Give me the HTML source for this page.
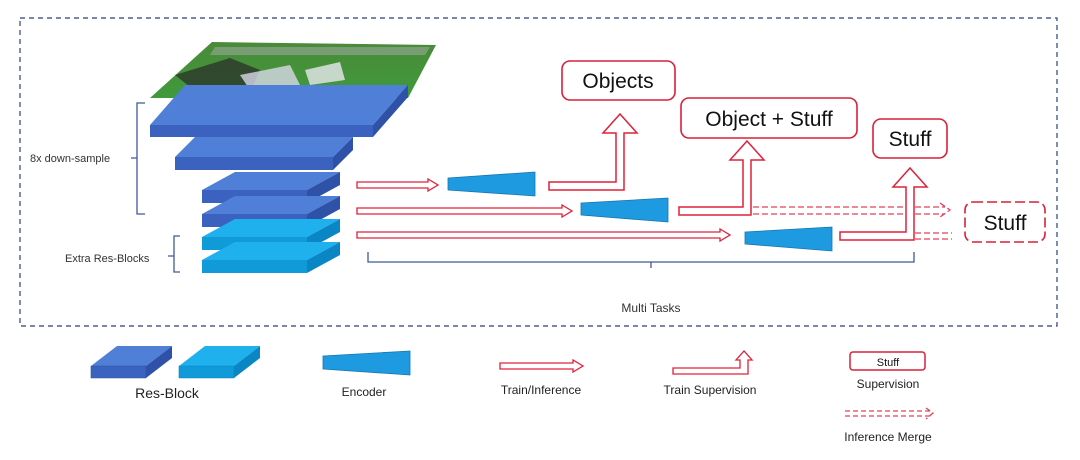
<!DOCTYPE html>
<html><head><meta charset="utf-8"><style>
body{margin:0;background:#fff;}
svg{display:block;font-family:"Liberation Sans",sans-serif;}
</style></head><body>
<svg width="1080" height="460" viewBox="0 0 1080 460" xmlns="http://www.w3.org/2000/svg">
<defs>
<linearGradient id="g" x1="0" y1="0" x2="0" y2="1"><stop offset="0" stop-color="#4a8a3a"/><stop offset="1" stop-color="#3f9a3a"/></linearGradient>
</defs>
<rect x="20" y="18" width="1037" height="308" fill="none" stroke="#2f3f7a" stroke-width="1.2" stroke-dasharray="5,4"/>

<!-- photo -->
<polygon points="150,98 408,98 436,45 212,42" fill="url(#g)"/>
<polygon points="175,75 230,58 260,70 250,92 200,95" fill="#2a2a2a" opacity="0.7"/>
<polygon points="240,75 290,65 300,85 250,90" fill="#d8d8e8" opacity="0.8"/>
<polygon points="305,70 340,62 345,80 310,85" fill="#e8e8f0" opacity="0.8"/>
<polygon points="215,47 430,47 425,55 210,55" fill="#9aa89a" opacity="0.6"/>

<!-- layer1 -->
<polygon points="150,125 373,125 408,85 185,85" fill="#4f7fd6"/>
<polygon points="150,125 373,125 373,137 150,137" fill="#3c62c0"/>
<polygon points="373,125 408,85 408,97 373,137" fill="#2f52a8"/>
<!-- layer2 -->
<polygon points="175,157 333,157 353,137 195,137" fill="#4f7fd6"/>
<polygon points="175,157 333,157 333,170 175,170" fill="#3c62c0"/>
<polygon points="333,157 353,137 353,150 333,170" fill="#2f52a8"/>
<!-- layers 3-6 -->
<g>
<polygon points="202,190 307,190 340,172 235,172" fill="#4f7fd6"/>
<polygon points="202,190 307,190 307,203 202,203" fill="#3c62c0"/>
<polygon points="307,190 340,172 340,185 307,203" fill="#2f52a8"/>
<polygon points="202,214 307,214 340,196 235,196" fill="#4f7fd6"/>
<polygon points="202,214 307,214 307,227 202,227" fill="#3c62c0"/>
<polygon points="307,214 340,196 340,209 307,227" fill="#2f52a8"/>
<polygon points="202,237 307,237 340,219 235,219" fill="#1fb0ee"/>
<polygon points="202,237 307,237 307,250 202,250" fill="#109ad8"/>
<polygon points="307,237 340,219 340,232 307,250" fill="#0a86c4"/>
<polygon points="202,260 307,260 340,242 235,242" fill="#1fb0ee"/>
<polygon points="202,260 307,260 307,273 202,273" fill="#109ad8"/>
<polygon points="307,260 340,242 340,255 307,273" fill="#0a86c4"/>
</g>

<!-- brackets -->
<g fill="none" stroke="#3f5a9a" stroke-width="1.3">
<path d="M145,103 H137 V214 H145 M137,158 H131"/>
<path d="M180,236 H174 V272 H180 M174,256 H168"/>
<path d="M368,252 V262 H914 V252 M651,262 V268"/>
</g>
<text x="30" y="162" font-size="11" fill="#333">8x down-sample</text>
<text x="65" y="262" font-size="11" fill="#333">Extra Res-Blocks</text>
<text x="651" y="312" font-size="12" fill="#333" text-anchor="middle">Multi Tasks</text>

<!-- train arrows -->
<g fill="#fff" stroke="#e0203a" stroke-width="1.3">
<polygon points="357,182 428,182 428,179 438,185 428,191 428,188 357,188"/>
<polygon points="357,208 562,208 562,205 572,211 562,217 562,214 357,214"/>
<polygon points="357,232 720,232 720,229 730,235 720,241 720,238 357,238"/>
</g>

<!-- encoders -->
<g fill="#1e9be0" stroke="#1577b0" stroke-width="0.8">
<polygon points="448,178 535,172 535,196 448,190"/>
<polygon points="581,203 668,198 668,222 581,215"/>
<polygon points="745,232 832,227 832,251 745,244"/>
</g>

<!-- dashed merge arrows -->
<g fill="none" stroke="#e0405a" stroke-width="1.3" stroke-dasharray="6,3">
<path d="M753,207 H945 M753,214 H945 M940,203 L950,210 L940,217"/>
<path d="M915,233 H952 M915,239 H952"/>
</g>

<!-- supervision arrows -->
<g fill="#fff" stroke="#e0203a" stroke-width="1.5">
<polygon points="549,182 616,182 616,133 603,133 620,114 637,133 624,133 624,190 549,190"/>
<polygon points="679,207 743,207 743,160 730,160 747,141 764,160 751,160 751,215 679,215"/>
<polygon points="840,232 906,232 906,187 893,187 910,168 927,187 914,187 914,240 840,240"/>
</g>

<!-- boxes -->
<g fill="#fff" stroke="#d8203a" stroke-width="1.6">
<rect x="562" y="61" width="113" height="39" rx="8"/>
<rect x="681" y="98" width="176" height="40" rx="8"/>
<rect x="873" y="119" width="74" height="39" rx="8"/>
<rect x="965" y="202" width="80" height="40" rx="8" stroke-dasharray="10,4"/>
</g>
<g font-size="21" fill="#111" text-anchor="middle">
<text x="618" y="88">Objects</text>
<text x="769" y="126">Object + Stuff</text>
<text x="910" y="146">Stuff</text>
<text x="1005" y="230">Stuff</text>
</g>

<!-- legend -->
<polygon points="91,366 146,366 172,346 117,346" fill="#4f7fd6"/>
<polygon points="91,366 146,366 146,378 91,378" fill="#3c62c0" stroke="#2f52a8" stroke-width="0.6"/>
<polygon points="146,366 172,346 172,358 146,378" fill="#2f52a8"/>
<polygon points="179,366 234,366 260,346 205,346" fill="#1fb0ee"/>
<polygon points="179,366 234,366 234,378 179,378" fill="#109ad8" stroke="#0a86c4" stroke-width="0.6"/>
<polygon points="234,366 260,346 260,358 234,378" fill="#0a86c4"/>
<text x="167" y="398" font-size="14" fill="#222" text-anchor="middle">Res-Block</text>

<polygon points="323,356 410,351 410,375 323,369" fill="#1e9be0" stroke="#1577b0" stroke-width="0.8"/>
<text x="364" y="396" font-size="12" fill="#222" text-anchor="middle">Encoder</text>

<polygon points="500,363 573,363 573,360 583,366 573,372 573,369 500,369" fill="#fff" stroke="#e0203a" stroke-width="1.3"/>
<text x="541" y="394" font-size="12" fill="#222" text-anchor="middle">Train/Inference</text>

<polygon points="673,368 740,368 740,360 736,360 744,351 752,360 748,360 748,374 673,374" fill="#fff" stroke="#e0203a" stroke-width="1.3"/>
<text x="710" y="394" font-size="12" fill="#222" text-anchor="middle">Train Supervision</text>

<rect x="850" y="352" width="75" height="18" rx="3" fill="#fff" stroke="#d8203a" stroke-width="1.5"/>
<text x="888" y="366" font-size="11" fill="#111" text-anchor="middle">Stuff</text>
<text x="888" y="388" font-size="12" fill="#222" text-anchor="middle">Supervision</text>

<g fill="none" stroke="#e0405a" stroke-width="1.3" stroke-dasharray="5,3">
<path d="M845,411 H930 M845,416 H930 M926,408 L933,413 L926,419"/>
</g>
<text x="888" y="441" font-size="12" fill="#222" text-anchor="middle">Inference Merge</text>
</svg>
</body></html>
